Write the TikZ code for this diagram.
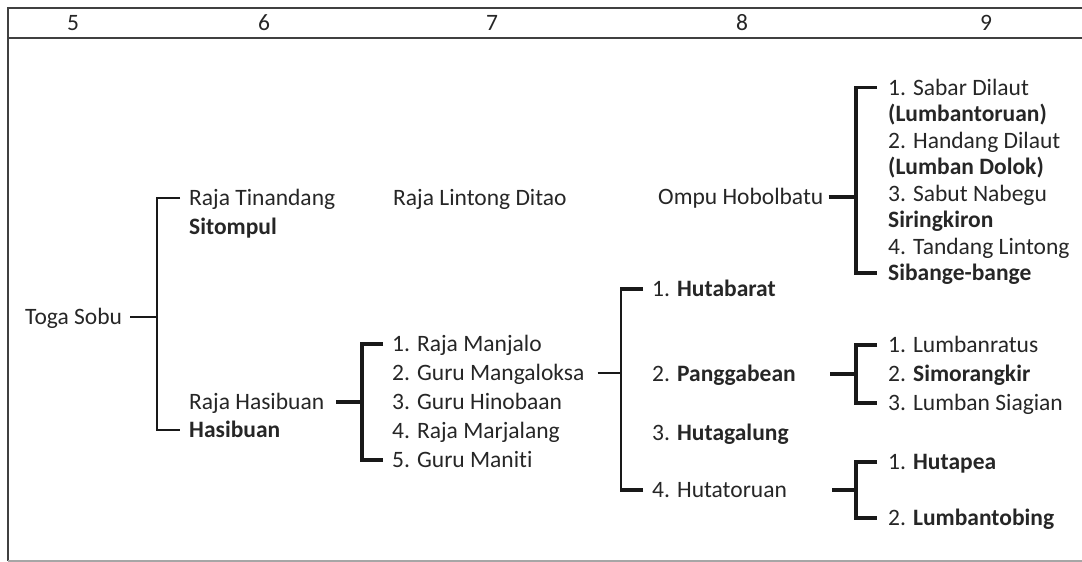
\documentclass[tikz,border=0pt]{standalone}
\usepackage{fontspec}
\setmainfont{Carlito}[Ligatures=NoCommon]
\usetikzlibrary{positioning}

\begin{document}
\begin{tikzpicture}[
	x=1pt, y=-1pt,
	font=\fontsize{23.5}{27}\selectfont,
	text=black!85,
	% Define styles
	gen/.style={anchor=west, inner sep=0pt, text height=17.5pt, text depth=2.5pt},
	colnum/.style={inner sep=0pt, text height=17.5pt, text depth=2.5pt},
	frame/.style={line width=2.2pt, black!75},
	thinline/.style={line width=1.5pt, black!90},
	thickline/.style={line width=3.4pt, black!90}
	]
	\useasboundingbox (0,0) rectangle (1082,562);
	
	% Frame and header row
	\draw[frame] (8,561) -- (8,8) -- (1082,8);
	\draw[frame] (8,38) -- (1082,38);
	\draw[black!35, line width=1.2pt] (8,561) -- (1082,561);
	
	\node[colnum] (c5) at (73,23) {5};
	\node[colnum] (c6) at (264,23) {6};
	\node[colnum] (c7) at (492,23) {7};
	\node[colnum] (c8) at (742,23) {8};
	\node[colnum] (c9) at (986,23) {9};
	
	% 1. Generations 5 and 6
	\node[gen] (toga) at (25,317) {Toga Sobu};
	\node[gen] (tinandang) at (189,198) {Raja Tinandang};
	\node[gen, below=29pt of tinandang.west, anchor=west] (sitompul) {\textbf{Sitompul}};
	\node[gen] (rhasibuan) at (189,402) {Raja Hasibuan};
	\node[gen, below=28pt of rhasibuan.west, anchor=west] (hasibuan) {\textbf{Hasibuan}};
	
	% 2. Generation 7
	\node[gen] (lintong) at (393,198) {Raja Lintong Ditao};
	\node[gen] (manjalo) at (392,344) {1. Raja Manjalo};
	\node[gen] (mangaloksa) at (392,373) {2. Guru Mangaloksa};
	\node[gen] (hinobaan) at (392,402) {3. Guru Hinobaan};
	\node[gen] (marjalang) at (392,431) {4. Raja Marjalang};
	\node[gen] (maniti) at (392,460) {5. Guru Maniti};
	
	% 3. Generation 8
	\node[gen] (ompu) at (658,197) {Ompu Hobolbatu};
	\node[gen] (hutabarat) at (652,289) {1. \textbf{Hutabarat}};
	\node[gen] (panggabean) at (652,374) {2. \textbf{Panggabean}};
	\node[gen] (hutagalung) at (652,433) {3. \textbf{Hutagalung}};
	\node[gen] (hutatoruan) at (652,490) {4. Hutatoruan};
	
	% 4. Generation 9
	\node[gen] (sabar) at (888,87.5) {1. Sabar Dilaut};
	\node[gen] (lumbantoruan) at (888,114) {\textbf{(Lumbantoruan)}};
	\node[gen] (handang) at (888,140.5) {2. Handang Dilaut};
	\node[gen] (lumbandolok) at (888,167) {\textbf{(Lumban Dolok)}};
	\node[gen] (sabut) at (888,193.5) {3. Sabut Nabegu};
	\node[gen] (siringkiron) at (888,220) {\textbf{Siringkiron}};
	\node[gen] (tandang) at (888,246.5) {4. Tandang Lintong};
	\node[gen] (sibange) at (888,273) {\textbf{Sibange-bange}};
	\node[gen] (lumbanratus) at (888,345) {1. Lumbanratus};
	\node[gen] (simorangkir) at (888,374) {2. \textbf{Simorangkir}};
	\node[gen] (siagian) at (888,403) {3. Lumban Siagian};
	\node[gen] (hutapea) at (888,462) {1. \textbf{Hutapea}};
	\node[gen] (lumbantobing) at (888,518) {2. \textbf{Lumbantobing}};
	
	% Bracket spines
	\coordinate (spA) at (157,0);
	\coordinate (spB) at (362,0);
	\coordinate (spC) at (621,0);
	\coordinate (spD) at (856,0);
	
	% Toga Sobu
	\draw[thinline] ([xshift=8pt]toga.east) -- (toga.east -| spA);
	\draw[thinline] ([xshift=-9pt]tinandang.west) -- (tinandang.west -| spA) -- (hasibuan.west -| spA) -- ([xshift=-9pt]hasibuan.west);
	
	% Raja Hasibuan
	\draw[thickline] ([xshift=12pt]rhasibuan.east) -- (rhasibuan.east -| spB);
	\draw[thickline] ([xshift=-9pt]manjalo.west) -- (manjalo.west -| spB) -- (maniti.west -| spB) -- ([xshift=-9pt]maniti.west);
	
	% Guru Mangaloksa
	\draw[thinline] ([xshift=13pt]mangaloksa.east) -- (mangaloksa.east -| spC);
	\draw[thinline] (hutabarat.west -| spC) -- (hutatoruan.west -| spC);
	\draw[thickline] ([xshift=-9pt]hutabarat.west) -- ([xshift=-0.75pt]hutabarat.west -| spC);
	\draw[thickline] ([xshift=-9pt]hutatoruan.west) -- ([xshift=-0.75pt]hutatoruan.west -| spC);
	
	% Ompu Hobolbatu
	\draw[thickline] ([xshift=5pt]ompu.east) -- (ompu.east -| spD);
	\draw[thickline] ([xshift=-11pt]sabar.west) -- (sabar.west -| spD) -- (sibange.west -| spD) -- ([xshift=-11pt]sibange.west);
	
	% Panggabean
	\draw[thickline] ([xshift=-26pt]panggabean.east -| spD) -- (panggabean.east -| spD);
	\draw[thickline] ([xshift=-11pt]lumbanratus.west) -- (lumbanratus.west -| spD) -- (siagian.west -| spD) -- ([xshift=-11pt]siagian.west);
	
	% Hutatoruan
	\draw[thickline] ([xshift=-24pt]hutatoruan.east -| spD) -- (hutatoruan.east -| spD);
	\draw[thickline] ([xshift=-11pt]hutapea.west) -- (hutapea.west -| spD) -- (lumbantobing.west -| spD) -- ([xshift=-11pt]lumbantobing.west);
\end{tikzpicture}
\end{document}
